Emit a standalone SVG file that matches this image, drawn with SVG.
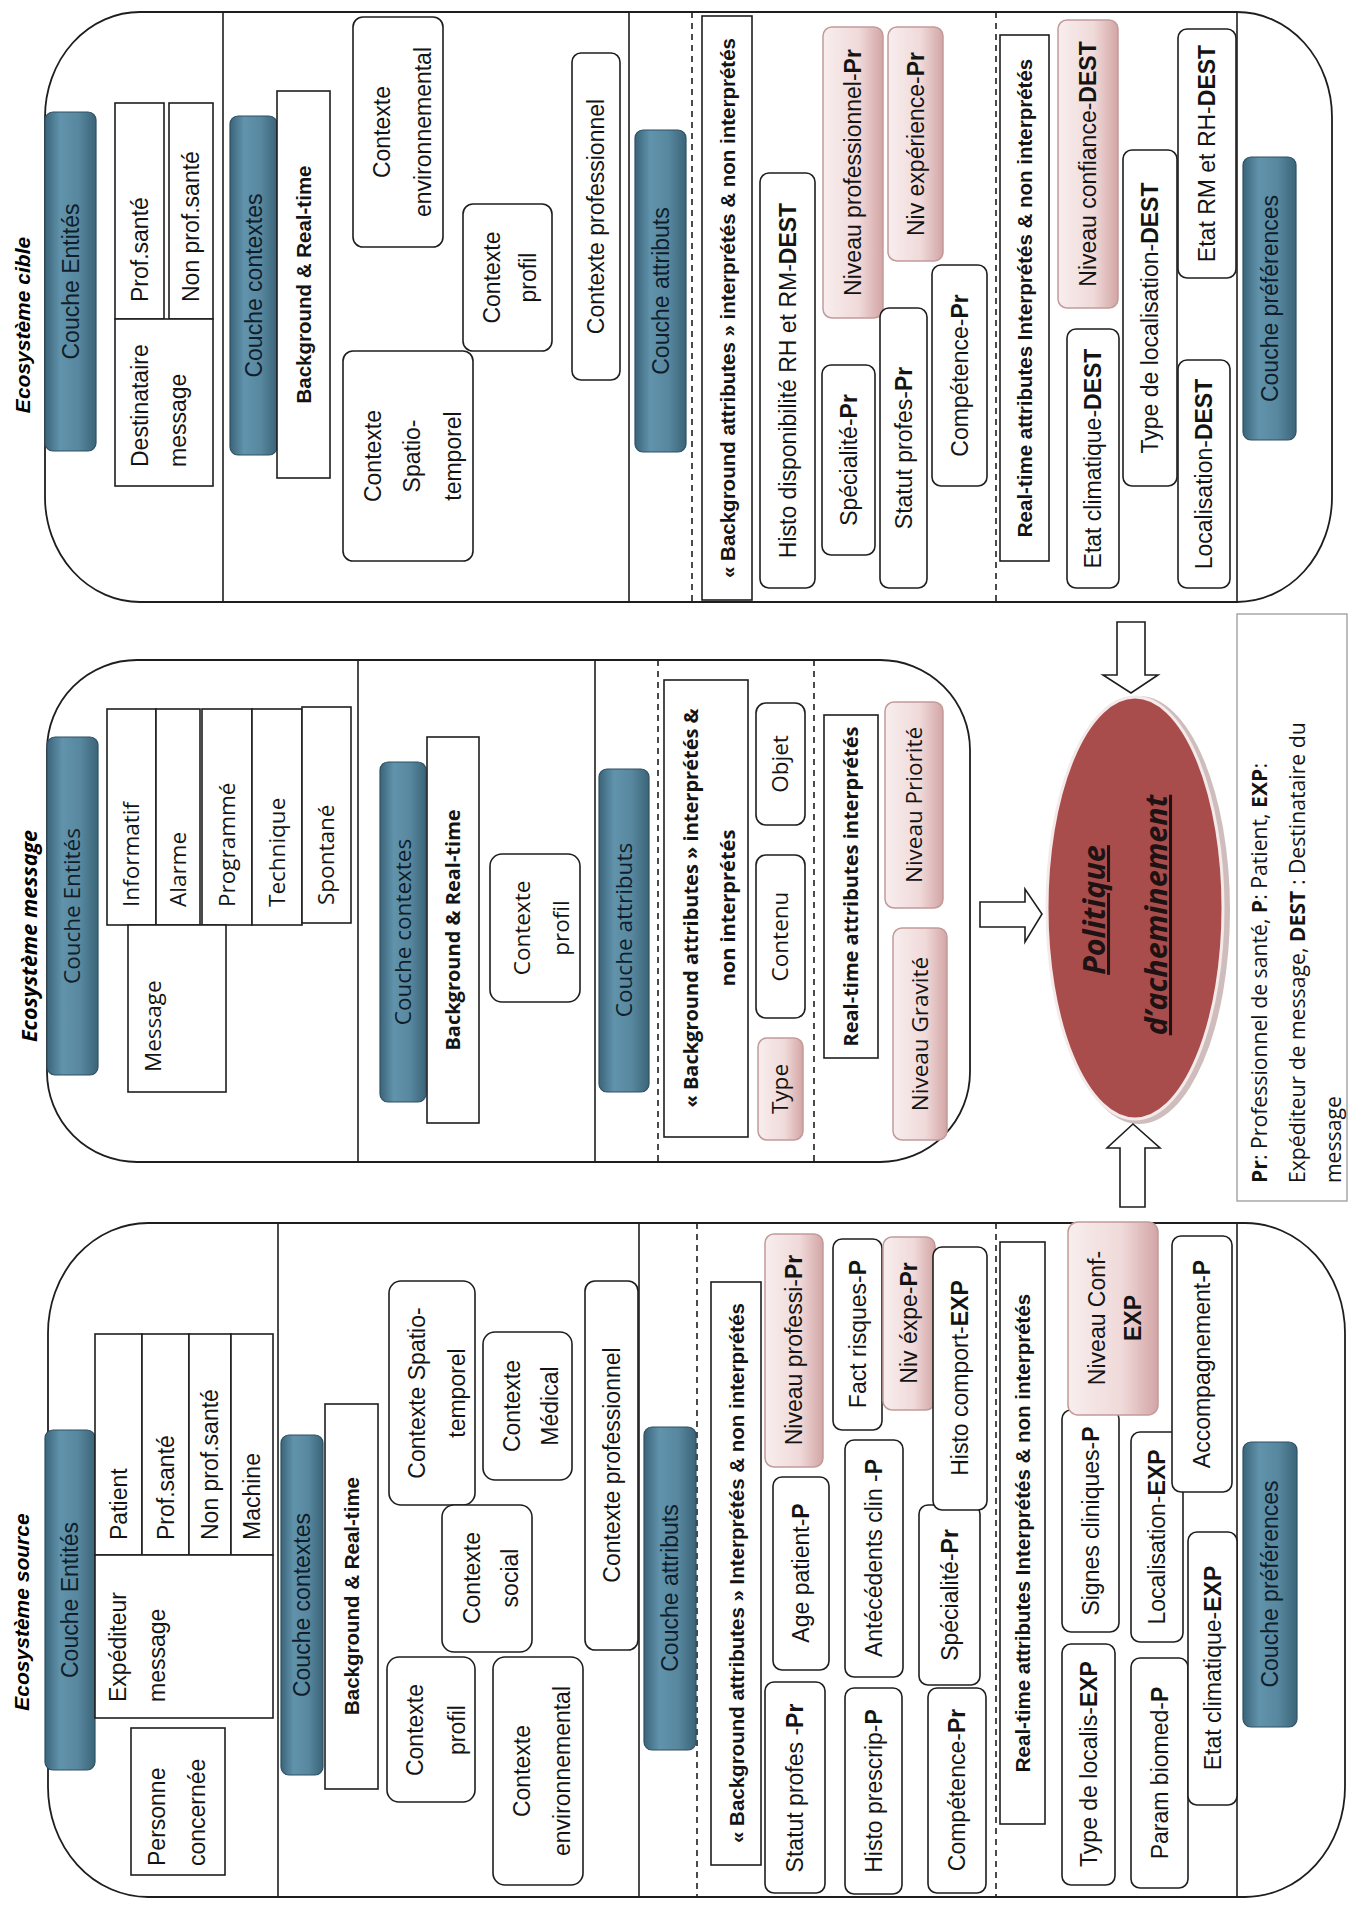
<svg xmlns="http://www.w3.org/2000/svg" width="1348" height="1906" viewBox="0 0 1348 1906">
<defs>
<linearGradient id="pillg" x1="0" y1="0" x2="1" y2="0">
<stop offset="0" stop-color="#3a6479"/>
<stop offset="0.3" stop-color="#6193ac"/>
<stop offset="0.65" stop-color="#58889f"/>
<stop offset="1" stop-color="#3b6478"/>
</linearGradient>
<linearGradient id="pinkg" x1="0" y1="0" x2="1" y2="0">
<stop offset="0" stop-color="#f8eeee"/>
<stop offset="0.6" stop-color="#f0d9d9"/>
<stop offset="1" stop-color="#d3a5a5"/>
</linearGradient>
<style>
text { font-family: "Liberation Sans", Arial, sans-serif; font-size: 23px; fill: #141414; }
.m { text-anchor: middle; }
.bd { font-weight: bold; font-size: 20.5px; }
.b { font-weight: bold; }
.ttl { font-weight: bold; font-style: italic; font-size: 21px; fill: #000; }
.os { font-family: "Open Sans", sans-serif; font-size: 22.5px; }
.osb { font-family: "Open Sans", sans-serif; font-size: 20px; font-weight: bold; }
.ost { font-family: "Open Sans", sans-serif; font-size: 21.5px; font-weight: bold; font-style: italic; fill: #000; }
.leg { font-family: "Open Sans", sans-serif; font-size: 21.2px; }
.pol { font-family: "Open Sans", sans-serif; font-size: 30.5px; font-weight: bold; font-style: italic; text-decoration: underline; fill: #1e1212; }
.pt { fill: #0f1e2a; }
.box { fill: #fff; stroke: #1e1e1e; stroke-width: 1.6; }
.pink { fill: url(#pinkg); stroke: #c29a9a; stroke-width: 1.5; }
.pill { fill: url(#pillg); stroke: #2f5164; stroke-width: 1.2; }
.outer { fill: #fff; stroke: #1e1e1e; stroke-width: 1.8; }
.sep { stroke: #1e1e1e; stroke-width: 1.6; }
.dash { stroke: #1e1e1e; stroke-width: 1.6; stroke-dasharray: 6 5; }
.arrow { fill: #fff; stroke: #1e1e1e; stroke-width: 1.6; }
</style>
</defs>
<rect x="0" y="0" width="1348" height="1906" fill="#fff"/>

<!-- ===================== ECOSYSTEME CIBLE ===================== -->
<g id="eco-cible">
<rect class="outer" x="45" y="12" width="1287" height="590" rx="95" ry="105"/>
<line class="sep" x1="223" y1="12" x2="223" y2="602"/>
<line class="sep" x1="629" y1="12" x2="629" y2="602"/>
<line class="dash" x1="692" y1="12" x2="692" y2="602"/>
<line class="dash" x1="996" y1="12" x2="996" y2="602"/>
<line class="sep" x1="1237" y1="12" x2="1237" y2="602"/>
<text class="ttl m" x="29.5" y="325" transform="rotate(-90 29.5 325)">Ecosystème cible</text>
</g>
<g id="cible-entites"><rect class="pill" x="45" y="112" width="51" height="339" rx="8"/><text class="m pt" x="78.5" y="281.5" transform="rotate(-90 78.5 281.5)">Couche Entités</text></g>
<g id="cible-prof"><rect class="box" x="115" y="103" width="49" height="216"/><text x="147.5" y="302" transform="rotate(-90 147.5 302)">Prof.santé</text></g>
<g id="cible-nonprof"><rect class="box" x="169" y="103" width="44" height="216"/><text x="199" y="302" transform="rotate(-90 199 302)">Non prof.santé</text></g>
<g id="cible-dest"><rect class="box" x="115" y="319" width="98" height="167"/><text x="148" y="467" transform="rotate(-90 148 467)">Destinataire</text><text x="186" y="467" transform="rotate(-90 186 467)">message</text></g>
<g id="cible-contextes"><rect class="pill" x="230" y="116" width="47" height="339" rx="8"/><text class="m pt" x="261.5" y="285.5" transform="rotate(-90 261.5 285.5)">Couche contextes</text></g>
<g id="cible-bgrt"><rect class="box" x="277" y="91" width="53" height="387"/><text class="m bd" x="311" y="284.5" transform="rotate(-90 311 284.5)">Background &amp; Real-time</text></g>
<g id="cible-env"><rect class="box" x="353" y="17" width="90" height="230" rx="10"/><text class="m" x="390" y="132" transform="rotate(-90 390 132)">Contexte</text><text class="m" x="431" y="132" transform="rotate(-90 431 132)">environnemental</text></g>
<g id="cible-spatio"><rect class="box" x="343" y="351" width="130" height="210" rx="10"/><text class="m" x="381" y="456" transform="rotate(-90 381 456)">Contexte</text><text class="m" x="420" y="456" transform="rotate(-90 420 456)">Spatio-</text><text class="m" x="461" y="456" transform="rotate(-90 461 456)">temporel</text></g>
<g id="cible-profil"><rect class="box" x="463" y="204" width="89" height="147" rx="10"/><text class="m" x="500" y="277.5" transform="rotate(-90 500 277.5)">Contexte</text><text class="m" x="536" y="277.5" transform="rotate(-90 536 277.5)">profil</text></g>
<g id="cible-pro"><rect class="box" x="572" y="53" width="48" height="327" rx="9"/><text class="m" x="604" y="216.5" transform="rotate(-90 604 216.5)">Contexte professionnel</text></g>
<g id="cible-attributs"><rect class="pill" x="635" y="130" width="51" height="322" rx="8"/><text class="m pt" x="668.5" y="291" transform="rotate(-90 668.5 291)">Couche attributs</text></g>
<g id="cible-bga"><rect class="box" x="702" y="16" width="50" height="584"/><text class="m bd" x="734.5" y="308" transform="rotate(-90 734.5 308)">« Background attributes » interprétés &amp; non interprétés</text></g>
<g id="cible-histo"><rect class="box" x="760" y="173" width="55" height="415" rx="9"/><text class="m" x="795.5" y="380.5" transform="rotate(-90 795.5 380.5)">Histo  disponibilité RH et RM-<tspan class="b">DEST</tspan></text></g>
<g id="cible-nivpro"><rect class="pink" x="823" y="27" width="60" height="291" rx="9"/><text class="m" x="861" y="172.5" transform="rotate(-90 861 172.5)">Niveau professionnel-<tspan class="b">Pr</tspan></text></g>
<g id="cible-spec"><rect class="box" x="822" y="365" width="53" height="190" rx="9"/><text class="m" x="856.5" y="460" transform="rotate(-90 856.5 460)">Spécialité-<tspan class="b">Pr</tspan></text></g>
<g id="cible-statut"><rect class="box" x="880" y="308" width="47" height="280" rx="9"/><text class="m" x="911.5" y="448" transform="rotate(-90 911.5 448)">Statut profes-<tspan class="b">Pr</tspan></text></g>
<g id="cible-nivexp"><rect class="pink" x="888" y="27" width="55" height="234" rx="9"/><text class="m" x="923.5" y="144" transform="rotate(-90 923.5 144)">Niv expérience-<tspan class="b">Pr</tspan></text></g>
<g id="cible-comp"><rect class="box" x="932" y="265" width="55" height="221" rx="9"/><text class="m" x="967.5" y="375.5" transform="rotate(-90 967.5 375.5)">Compétence-<tspan class="b">Pr</tspan></text></g>
<g id="cible-rt"><rect class="box" x="1000" y="35" width="49" height="526"/><text class="m bd" x="1032" y="298" transform="rotate(-90 1032 298)">Real-time attributes Interprétés &amp; non interprétés</text></g>
<g id="cible-nivconf"><rect class="pink" x="1058" y="20" width="60" height="288" rx="9"/><text class="m" x="1096" y="164" transform="rotate(-90 1096 164)">Niveau confiance-<tspan class="b">DEST</tspan></text></g>
<g id="cible-etatclim"><rect class="box" x="1067" y="329" width="52" height="259" rx="9"/><text class="m" x="1101" y="458.5" transform="rotate(-90 1101 458.5)">Etat climatique-<tspan class="b">DEST</tspan></text></g>
<g id="cible-typeloc"><rect class="box" x="1123" y="150" width="54" height="336" rx="9"/><text class="m" x="1158" y="318" transform="rotate(-90 1158 318)">Type de localisation-<tspan class="b">DEST</tspan></text></g>
<g id="cible-etatrm"><rect class="box" x="1178" y="29" width="58" height="249" rx="9"/><text class="m" x="1215" y="153.5" transform="rotate(-90 1215 153.5)">Etat RM et RH-<tspan class="b">DEST</tspan></text></g>
<g id="cible-loc"><rect class="box" x="1178" y="360" width="52" height="228" rx="9"/><text class="m" x="1212" y="474" transform="rotate(-90 1212 474)">Localisation-<tspan class="b">DEST</tspan></text></g>
<g id="cible-pref"><rect class="pill" x="1243" y="157" width="53" height="283" rx="8"/><text class="m pt" x="1277.5" y="298.5" transform="rotate(-90 1277.5 298.5)">Couche préférences</text></g>

<!-- ===================== ECOSYSTEME MESSAGE ===================== -->
<g id="eco-message">
<rect class="outer" x="47" y="660" width="923" height="502" rx="90" ry="90"/>
<line class="sep" x1="358" y1="660" x2="358" y2="1162"/>
<line class="sep" x1="595" y1="660" x2="595" y2="1162"/>
<line class="dash" x1="658" y1="660" x2="658" y2="1162"/>
<line class="dash" x1="814" y1="660" x2="814" y2="1162"/>
<text class="ost m" x="37" y="936" transform="rotate(-90 37 936)">Ecosystème message</text>
</g>
<g id="msg-entites"><rect class="pill" x="47" y="737" width="51" height="338" rx="8"/><text class="m pt os" x="80" y="906" transform="rotate(-90 80 906)">Couche Entités</text></g>
<g id="msg-informatif"><rect class="box" x="107" y="709" width="49" height="216"/><text class="os" x="139" y="907" transform="rotate(-90 139 907)">Informatif</text></g>
<g id="msg-alarme"><rect class="box" x="156" y="709" width="44" height="216"/><text class="os" x="185.5" y="907" transform="rotate(-90 185.5 907)">Alarme</text></g>
<g id="msg-programme"><rect class="box" x="202" y="709" width="50" height="216"/><text class="os" x="234.5" y="907" transform="rotate(-90 234.5 907)">Programmé</text></g>
<g id="msg-technique"><rect class="box" x="252" y="709" width="50" height="216"/><text class="os" x="284.5" y="907" transform="rotate(-90 284.5 907)">Technique</text></g>
<g id="msg-spontane"><rect class="box" x="302" y="707" width="49" height="216"/><text class="os" x="334" y="905" transform="rotate(-90 334 905)">Spontané</text></g>
<g id="msg-message"><rect class="box" x="128" y="925" width="98" height="167"/><text class="os" x="160.5" y="1072" transform="rotate(-90 160.5 1072)">Message</text></g>
<g id="msg-contextes"><rect class="pill" x="380" y="762" width="46" height="340" rx="8"/><text class="m pt os" x="410.5" y="932" transform="rotate(-90 410.5 932)">Couche contextes</text></g>
<g id="msg-bgrt"><rect class="box" x="427" y="737" width="52" height="386"/><text class="m osb" x="460" y="930" transform="rotate(-90 460 930)">Background &amp; Real-time</text></g>
<g id="msg-profil"><rect class="box" x="490" y="854" width="90" height="148" rx="12"/><text class="m os" x="529.5" y="928" transform="rotate(-90 529.5 928)">Contexte</text><text class="m os" x="568.5" y="928" transform="rotate(-90 568.5 928)">profil</text></g>
<g id="msg-attributs"><rect class="pill" x="599" y="769" width="50" height="323" rx="8"/><text class="m pt os" x="631.5" y="930" transform="rotate(-90 631.5 930)">Couche attributs</text></g>
<g id="msg-bga"><rect class="box" x="664" y="680" width="84" height="457"/><text class="m osb" x="698" y="908" transform="rotate(-90 698 908)">« Background attributes »  interprétés &amp;</text><text class="m osb" x="735" y="908" transform="rotate(-90 735 908)">non interprétés</text></g>
<g id="msg-objet"><rect class="box" x="756" y="703" width="49" height="122" rx="10"/><text class="m os" x="788" y="764" transform="rotate(-90 788 764)">Objet</text></g>
<g id="msg-contenu"><rect class="box" x="756" y="855" width="49" height="163" rx="10"/><text class="m os" x="788" y="936.5" transform="rotate(-90 788 936.5)">Contenu</text></g>
<g id="msg-type"><rect class="pink" x="758" y="1038" width="45" height="102" rx="9"/><text class="m os" x="788" y="1089" transform="rotate(-90 788 1089)">Type</text></g>
<g id="msg-rt"><rect class="box" x="824" y="715" width="54" height="343"/><text class="m osb" x="858" y="886.5" transform="rotate(-90 858 886.5)">Real-time attributes interprétés</text></g>
<g id="msg-priorite"><rect class="pink" x="885" y="702" width="58" height="206" rx="9"/><text class="m os" x="921.5" y="805" transform="rotate(-90 921.5 805)">Niveau Priorité</text></g>
<g id="msg-gravite"><rect class="pink" x="893" y="928" width="54" height="212" rx="9"/><text class="m os" x="927.5" y="1034" transform="rotate(-90 927.5 1034)">Niveau Gravité</text></g>

<!-- ===================== POLITIQUE & LEGENDE ===================== -->
<g id="politique">
<ellipse cx="1139" cy="910" rx="91" ry="214" fill="#cfbdbd"/>
<ellipse cx="1135" cy="908" rx="88" ry="211" fill="#a94c4c" stroke="#f4eaea" stroke-width="3"/>
<text class="m pol" x="1105" y="910" transform="rotate(-90 1105 910)">Politique</text>
<text class="m pol" x="1167" y="915" transform="rotate(-90 1167 915)">d’acheminement</text>
</g>
<g id="legende">
<rect x="1237" y="614" width="110" height="587" fill="#fff" stroke="#9a9a9a" stroke-width="1.3"/>
<text class="leg" x="1267" y="1183" transform="rotate(-90 1267 1183)"><tspan class="b">Pr</tspan>: Professionnel de santé, <tspan class="b">P</tspan>: Patient, <tspan class="b">EXP</tspan>:</text>
<text class="leg" x="1305" y="1183" transform="rotate(-90 1305 1183)">Expéditeur de message, <tspan class="b">DEST</tspan> : Destinataire du</text>
<text class="leg" x="1341" y="1183" transform="rotate(-90 1341 1183)">message</text>
</g>

<!-- ===================== ECOSYSTEME SOURCE ===================== -->
<g id="eco-source">
<rect class="outer" x="48" y="1223" width="1297" height="674" rx="100" ry="110"/>
<line class="sep" x1="278" y1="1223" x2="278" y2="1897"/>
<line class="sep" x1="639" y1="1223" x2="639" y2="1897"/>
<line class="dash" x1="697" y1="1223" x2="697" y2="1897"/>
<line class="dash" x1="996" y1="1223" x2="996" y2="1897"/>
<line class="sep" x1="1237" y1="1223" x2="1237" y2="1897"/>
<text class="ttl m" x="28.5" y="1612" transform="rotate(-90 28.5 1612)">Ecosystème source</text>
</g>
<g id="src-entites"><rect class="pill" x="45" y="1430" width="50" height="340" rx="8"/><text class="m pt" x="78" y="1600" transform="rotate(-90 78 1600)">Couche Entités</text></g>
<g id="src-patient"><rect class="box" x="95" y="1334" width="47" height="221"/><text x="126.5" y="1540" transform="rotate(-90 126.5 1540)">Patient</text></g>
<g id="src-prof"><rect class="box" x="142" y="1334" width="47" height="221"/><text x="173.5" y="1540" transform="rotate(-90 173.5 1540)">Prof.santé</text></g>
<g id="src-nonprof"><rect class="box" x="189" y="1334" width="42" height="221"/><text x="218" y="1540" transform="rotate(-90 218 1540)">Non prof.santé</text></g>
<g id="src-machine"><rect class="box" x="231" y="1334" width="42" height="221"/><text x="260" y="1540" transform="rotate(-90 260 1540)">Machine</text></g>
<g id="src-expediteur"><rect class="box" x="95" y="1555" width="178" height="163"/><text x="126" y="1702" transform="rotate(-90 126 1702)">Expéditeur</text><text x="165" y="1702" transform="rotate(-90 165 1702)">message</text></g>
<g id="src-personne"><rect class="box" x="131" y="1728" width="94" height="147"/><text x="165" y="1866" transform="rotate(-90 165 1866)">Personne</text><text x="205" y="1866" transform="rotate(-90 205 1866)">concernée</text></g>
<g id="src-contextes"><rect class="pill" x="281" y="1435" width="42" height="340" rx="8"/><text class="m pt" x="310" y="1605" transform="rotate(-90 310 1605)">Couche contextes</text></g>
<g id="src-bgrt"><rect class="box" x="325" y="1404" width="53" height="385"/><text class="m bd" x="359" y="1596" transform="rotate(-90 359 1596)">Background &amp; Real-time</text></g>
<g id="src-spatio"><rect class="box" x="389" y="1281" width="86" height="224" rx="12"/><text class="m" x="425" y="1393" transform="rotate(-90 425 1393)">Contexte Spatio-</text><text class="m" x="465" y="1393" transform="rotate(-90 465 1393)">temporel</text></g>
<g id="src-profil"><rect class="box" x="387" y="1657" width="88" height="145" rx="12"/><text class="m" x="423" y="1730" transform="rotate(-90 423 1730)">Contexte</text><text class="m" x="465" y="1730" transform="rotate(-90 465 1730)">profil</text></g>
<g id="src-social"><rect class="box" x="442" y="1505" width="90" height="147" rx="12"/><text class="m" x="480" y="1578" transform="rotate(-90 480 1578)">Contexte</text><text class="m" x="518" y="1578" transform="rotate(-90 518 1578)">social</text></g>
<g id="src-medical"><rect class="box" x="483" y="1332" width="89" height="148" rx="12"/><text class="m" x="520" y="1406" transform="rotate(-90 520 1406)">Contexte</text><text class="m" x="558" y="1406" transform="rotate(-90 558 1406)">Médical</text></g>
<g id="src-env"><rect class="box" x="493" y="1657" width="90" height="228" rx="12"/><text class="m" x="530" y="1771" transform="rotate(-90 530 1771)">Contexte</text><text class="m" x="570" y="1771" transform="rotate(-90 570 1771)">environnemental</text></g>
<g id="src-pro"><rect class="box" x="585" y="1281" width="53" height="369" rx="10"/><text class="m" x="620" y="1465" transform="rotate(-90 620 1465)">Contexte professionnel</text></g>
<g id="src-attributs"><rect class="pill" x="644" y="1427" width="52" height="323" rx="8"/><text class="m pt" x="678" y="1588" transform="rotate(-90 678 1588)">Couche attributs</text></g>
<g id="src-bga"><rect class="box" x="711" y="1282" width="50" height="583"/><text class="m bd" x="743.5" y="1573" transform="rotate(-90 743.5 1573)">« Background attributes » Interprétés &amp; non interprétés</text></g>
<g id="src-nivpro"><rect class="pink" x="765" y="1234" width="58" height="233" rx="9"/><text class="m" x="802" y="1350" transform="rotate(-90 802 1350)">Niveau professi-<tspan class="b">Pr</tspan></text></g>
<g id="src-age"><rect class="box" x="773" y="1477" width="56" height="193" rx="9"/><text class="m" x="809" y="1573" transform="rotate(-90 809 1573)">Age patient-<tspan class="b">P</tspan></text></g>
<g id="src-statut"><rect class="box" x="765" y="1682" width="60" height="211" rx="9"/><text class="m" x="803" y="1788" transform="rotate(-90 803 1788)">Statut profes -<tspan class="b">Pr</tspan></text></g>
<g id="src-fact"><rect class="box" x="833" y="1239" width="49" height="191" rx="9"/><text class="m" x="865.5" y="1334" transform="rotate(-90 865.5 1334)">Fact risques-<tspan class="b">P</tspan></text></g>
<g id="src-antec"><rect class="box" x="845" y="1440" width="58" height="237" rx="9"/><text class="m" x="882" y="1558" transform="rotate(-90 882 1558)">Antécédents clin -<tspan class="b">P</tspan></text></g>
<g id="src-histop"><rect class="box" x="845" y="1688" width="57" height="206" rx="9"/><text class="m" x="881.5" y="1791" transform="rotate(-90 881.5 1791)">Histo prescrip-<tspan class="b">P</tspan></text></g>
<g id="src-nivexp"><rect class="pink" x="883" y="1237" width="52" height="173" rx="9"/><text class="m" x="917" y="1323" transform="rotate(-90 917 1323)">Niv éxpe-<tspan class="b">Pr</tspan></text></g>
<g id="src-spec"><rect class="box" x="919" y="1505" width="61" height="180" rx="9"/><text class="m" x="957.5" y="1595" transform="rotate(-90 957.5 1595)">Spécialité-<tspan class="b">Pr</tspan></text></g>
<g id="src-histoc"><rect class="box" x="933" y="1247" width="54" height="263" rx="9"/><text class="m" x="968" y="1378" transform="rotate(-90 968 1378)">Histo comport-<tspan class="b">EXP</tspan></text></g>
<g id="src-comp"><rect class="box" x="928" y="1688" width="58" height="205" rx="9"/><text class="m" x="965" y="1790" transform="rotate(-90 965 1790)">Compétence-<tspan class="b">Pr</tspan></text></g>
<g id="src-rt"><rect class="box" x="1000" y="1242" width="45" height="582"/><text class="m bd" x="1030" y="1533" transform="rotate(-90 1030 1533)">Real-time  attributes Interprétés &amp; non interprétés</text></g>
<g id="src-signes"><rect class="box" x="1062" y="1410" width="57" height="222" rx="9"/><text class="m" x="1098.5" y="1521" transform="rotate(-90 1098.5 1521)">Signes cliniques-<tspan class="b">P</tspan></text></g>
<g id="src-nivconf"><rect class="pink" x="1068" y="1222" width="90" height="193" rx="10"/><text class="m" x="1105" y="1318" transform="rotate(-90 1105 1318)">Niveau Conf-</text><text class="m b" x="1141" y="1318" transform="rotate(-90 1141 1318)">EXP</text></g>
<g id="src-typeloc"><rect class="box" x="1062" y="1644" width="53" height="241" rx="9"/><text class="m" x="1096.5" y="1764" transform="rotate(-90 1096.5 1764)">Type de localis-<tspan class="b">EXP</tspan></text></g>
<g id="src-loc"><rect class="box" x="1131" y="1432" width="52" height="210" rx="9"/><text class="m" x="1165" y="1537" transform="rotate(-90 1165 1537)">Localisation-<tspan class="b">EXP</tspan></text></g>
<g id="src-accomp"><rect class="box" x="1172" y="1236" width="60" height="256" rx="9"/><text class="m" x="1210" y="1364" transform="rotate(-90 1210 1364)">Accompagnement-<tspan class="b">P</tspan></text></g>
<g id="src-param"><rect class="box" x="1131" y="1658" width="57" height="230" rx="9"/><text class="m" x="1167.5" y="1773" transform="rotate(-90 1167.5 1773)">Param biomed-<tspan class="b">P</tspan></text></g>
<g id="src-etatclim"><rect class="box" x="1188" y="1532" width="49" height="273" rx="9"/><text class="m" x="1220.5" y="1668" transform="rotate(-90 1220.5 1668)">Etat climatique-<tspan class="b">EXP</tspan></text></g>
<g id="src-pref"><rect class="pill" x="1243" y="1442" width="54" height="285" rx="8"/><text class="m pt" x="1278" y="1584" transform="rotate(-90 1278 1584)">Couche préférences</text></g>

<!-- ===================== CONNECTORS ===================== -->
<g id="connectors">
<polygon class="arrow" points="980,902 1025,902 1025,889 1042,914 1025,942 1025,927 980,927"/>
<polygon class="arrow" points="1117,622 1145,622 1145,675 1158,675 1131,693 1103,675 1117,675"/>
<polygon class="arrow" points="1120,1207 1145,1207 1145,1148 1160,1148 1133,1124 1107,1148 1120,1148"/>
</g>
</svg>
